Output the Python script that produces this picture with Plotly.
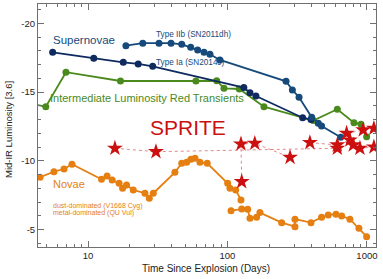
import plotly.graph_objects as go

# ---------------- data ----------------
ia_days = [5.58, 11.0, 17.9, 22.9, 29.1, 131, 145, 160, 346, 397]
ia_mag = [-17.89, -17.45, -17.16, -17.04, -16.87, -15.32, -14.95, -14.71, -13.13, -13.00]

iib_days = [18.7, 24.7, 32.3, 39.4, 47.0, 54.5, 61.1, 67.9, 74.9, 88.3, 263, 292, 326, 402, 448, 473, 648]
iib_mag = [-18.37, -18.55, -18.55, -18.55, -18.47, -18.25, -18.06, -17.89, -17.75, -17.33,
           -15.78, -15.15, -14.62, -13.16, -12.73, -12.53, -11.71]

ilrt_days = [3.84, 4.98, 6.95, 17.1, 59.4, 83.7, 94.4, 121.6, 182.6, 412, 613, 807, 906, 995]
ilrt_mag = [-14.17, -13.93, -16.44, -15.80, -15.80, -15.82, -15.27, -15.22, -13.93, -12.92,
            -13.75, -12.77, -12.65, -11.75]

dust_days = [4.53, 5.70, 6.73, 7.68, 12.5, 13.7, 14.9, 16.7, 17.7, 18.9, 21.1, 25.6, 27.5, 29.4,
             42.0, 47.0, 51.0, 54.7, 58.5, 63.5, 71.6, 100.3, 104.2, 114.5, 125]
dust_mag = [-8.80, -9.21, -9.40, -9.75, -8.65, -8.89, -8.60, -8.36, -8.00, -8.24, -7.88, -7.64,
            -7.27, -7.64, -9.16, -9.82, -9.89, -10.11, -10.18, -9.89, -9.82, -8.36, -8.00, -7.88, -7.15]

metal_days = [106, 126.5, 139.6, 145, 161.8, 170.9, 244.7, 304.8, 304.8, 397, 473, 528, 600, 659,
              755, 876, 995]
metal_mag = [-6.37, -6.49, -6.47, -5.82, -5.89, -6.23, -5.50, -5.21, -5.75, -5.50, -5.89, -6.06,
             -6.11, -5.99, -5.75, -5.09, -4.48]

# SPRITE events (each list is one object followed in time)
sprite_a_days = [15.6, 30.7, 613]
sprite_a_mag = [-10.91, -10.66, -10.91]
sprite_b_days = [126.5, 125, 157, 281]
sprite_b_mag = [-8.48, -11.22, -11.27, -10.25]
sprite_c_days = [390, 613, 755, 798, 891, 1122]
sprite_c_mag = [-11.32, -11.15, -11.51, -11.15, -10.91, -11.0]
sprite_d_days = [715, 940, 1122]
sprite_d_mag = [-12.0, -12.24, -12.36]

x_ticks = [10, 100, 1000]
x_ticklabels = ["10", "100", "1000"]
y_ticks = [-20, -15, -10, -5]
y_ticklabels = ["-20", "-15", "-10", "-5"]

# ---------------- styles ----------------
NAVY_IA = "#0e2a5e"
NAVY_IIB = "#164a7a"
GREEN = "#4a8a1c"
ORANGE = "#e57f12"
RED = "#cc1010"
DOT = "#e48a8a"
FONT = "Liberation Sans, Arial, Helvetica, sans-serif"

fig = go.Figure()


def line(x, y, color, width=1.8, size=7):
    fig.add_trace(go.Scatter(x=x, y=y, mode="lines+markers",
                             line=dict(color=color, width=width),
                             marker=dict(color=color, size=size),
                             showlegend=False, hoverinfo="skip"))


line(ilrt_days, ilrt_mag, GREEN)
line(ia_days, ia_mag, NAVY_IA)
line(iib_days, iib_mag, NAVY_IIB)
line(dust_days, dust_mag, ORANGE)
line(metal_days, metal_mag, ORANGE)

sprites = [(sprite_a_days, sprite_a_mag), (sprite_b_days, sprite_b_mag),
           (sprite_c_days, sprite_c_mag), (sprite_d_days, sprite_d_mag)]
for dx, dy in sprites:
    fig.add_trace(go.Scatter(x=dx, y=dy, mode="lines",
                             line=dict(color=DOT, width=1, dash="dot"),
                             showlegend=False, hoverinfo="skip"))
for dx, dy in sprites:
    fig.add_trace(go.Scatter(x=dx, y=dy, mode="markers",
                             marker=dict(symbol="star", color=RED, size=12, line=dict(width=0)),
                             showlegend=False, hoverinfo="skip"))

L, R, T, B = 38, 7, 4, 32
PW, PH = 383 - L - R, 279 - T - B


def px(x):
    return (x - L) / PW


def py(y):
    return (279 - B - y) / PH


def ann(text, x, y, size, color, xanchor="left"):
    fig.add_annotation(text=text, x=px(x), y=py(y), xref="paper", yref="paper",
                       showarrow=False, xanchor=xanchor, yanchor="middle",
                       font=dict(size=size, color=color, family=FONT))


ann("Supernovae", 51, 40, 11.5, NAVY_IIB)
ann("Type IIb (SN2011dh)", 154, 34, 8.2, NAVY_IIB)
ann("Type Ia (SN2014J)", 154, 62, 8.2, NAVY_IIB)
ann("Intermediate Luminosity Red Transients", 48, 98, 11, GREEN)
ann("SPRITE", 188, 127, 21, RED, "center")
ann("Novae", 51, 184, 11, ORANGE)
ann("dust-dominated (V1668 Cyg)", 51, 206, 7, ORANGE)
ann("metal-dominated (QU Vul)", 51, 213, 7, ORANGE)

fig.add_annotation(text="Mid-IR Luminosity [3.6]", x=-30 / PW, y=py(130), xref="paper", yref="paper",
                   showarrow=False, textangle=-90, xanchor="center", yanchor="middle",
                   font=dict(size=9.5, color="#222", family=FONT))
fig.add_annotation(text="Time Since Explosion (Days)", x=px(206), y=py(268), xref="paper", yref="paper",
                   showarrow=False, xanchor="center", yanchor="middle",
                   font=dict(size=10, color="#222", family=FONT))

AX = "#707070"
fig.update_xaxes(type="log", range=[0.6415, 3.065], tickvals=x_ticks, ticktext=x_ticklabels,
                 ticks="inside", ticklen=6, tickcolor=AX, showline=True, linecolor=AX, linewidth=1,
                 mirror="allticks", showgrid=False, zeroline=False,
                 minor=dict(ticks="inside", ticklen=3, tickcolor=AX, dtick="D1", showgrid=False),
                 tickfont=dict(size=9.5, color="#222", family=FONT))
fig.update_yaxes(range=[-3.73, -21.4], tickvals=y_ticks, ticktext=y_ticklabels,
                 ticks="inside", ticklen=6, tickcolor=AX, showline=True, linecolor=AX, linewidth=1,
                 mirror="allticks", showgrid=False, zeroline=False,
                 minor=dict(ticks="inside", ticklen=3, tickcolor=AX, dtick=1, showgrid=False),
                 tickfont=dict(size=9.5, color="#222", family=FONT))

fig.update_layout(width=383, height=279, margin=dict(l=L, r=R, t=T, b=B),
                  paper_bgcolor="white", plot_bgcolor="white", showlegend=False)

fig.write_html("out.html", config={"displayModeBar": False},
               post_script="document.body.style.margin='0';document.body.style.overflow='hidden';")
